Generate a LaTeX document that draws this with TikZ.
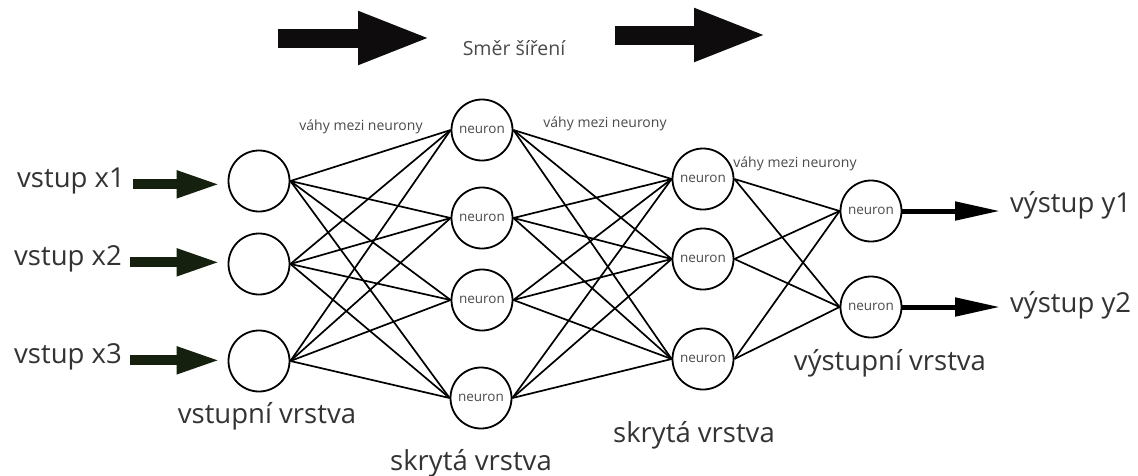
\documentclass[tikz,border=0pt]{standalone}
\usepackage{fontspec}
\setmainfont{Open Sans}
\usetikzlibrary{arrows.meta}
\definecolor{txt}{HTML}{333333}
\definecolor{soft}{HTML}{4A4A4A}
\definecolor{inarr}{HTML}{16200F}
\definecolor{bigarr}{HTML}{0E0C0D}
\begin{document}
\begin{tikzpicture}[x=1pt,y=-1pt,
  neuron/.style={circle,draw=black,line width=1.8pt,minimum size=61pt,inner sep=0pt,
    font=\fontsize{13.5}{13.5}\selectfont,text=soft},
  edge/.style={line width=1.7pt,black},
  biglabel/.style={inner sep=0pt,font=\fontsize{27.5}{30}\selectfont,text=txt},
  weightlabel/.style={inner sep=0pt,font=\fontsize{14}{14}\selectfont,text=soft,anchor=base},
  inarrow/.style={line width=10pt,inarr,-{Triangle[length=44pt,width=25pt]}},
  outarrow/.style={line width=5pt,black,-{Triangle[length=45pt,width=18pt]}},
  toparrow/.style={line width=19pt,bigarr,-{Triangle[length=74pt,width=48pt]}}]
\useasboundingbox (0,0) rectangle (1138,475);

% direction of propagation
\node[inner sep=0pt,anchor=base,font=\fontsize{19.5}{20}\selectfont,text=soft] (dir) at (514,55) {Směr šíření};
\coordinate (dl1) at (278,38);
\coordinate (dl2) at (432,38);
\coordinate (dr1) at (615,35);
\coordinate (dr2) at (768,35);
\draw[toparrow] (dl1) -- (dl2);
\draw[toparrow] (dr1) -- (dr2);

% input layer
\node[neuron] (i1) at (259,181) {};
\node[neuron] (i2) at (259,264) {};
\node[neuron] (i3) at (259,361) {};
% first hidden layer
\node[neuron] (h1) at (482,130) {neuron};
\node[neuron] (h2) at (482,218) {neuron};
\node[neuron] (h3) at (482,300) {neuron};
\node[neuron] (h4) at (481,398) {neuron};
% second hidden layer
\node[neuron] (g1) at (703,179) {neuron};
\node[neuron] (g2) at (703,259) {neuron};
\node[neuron] (g3) at (703,359) {neuron};
% output layer
\node[neuron] (o1) at (871,211) {neuron};
\node[neuron] (o2) at (871,307) {neuron};

% weights
\foreach \a in {i1,i2,i3}
  \foreach \b in {h1,h2,h3,h4}
    \draw[edge] (\a.east) -- (\b.west);
\foreach \a in {h1,h2,h3,h4}
  \foreach \b in {g1,g2,g3}
    \draw[edge] (\a.east) -- (\b.west);
\foreach \a in {g1,g2,g3}
  \foreach \b in {o1,o2}
    \draw[edge] (\a.east) -- (\b.west);

\node[weightlabel] (w1) at (361,130) {váhy mezi neurony};
\node[weightlabel] (w2) at (605,127) {váhy mezi neurony};
\node[weightlabel] (w3) at (795,167) {váhy mezi neurony};

% inputs
\node[biglabel,anchor=base east] (x1) at (125,187) {vstup x1};
\node[biglabel,anchor=base east] (x2) at (122,265) {vstup x2};
\node[biglabel,anchor=base east] (x3) at (122,363) {vstup x3};
\draw[inarrow,shorten <=8pt,shorten >=7pt] (x1.mid east) -- (x1.mid east -| i1.west);
\draw[inarrow,shorten <=8pt,shorten >=7pt] (x2.mid east) -- (x2.mid east -| i2.west);
\draw[inarrow,shorten <=8pt,shorten >=7pt] (x3.mid east) -- (x3.mid east -| i3.west);

% outputs
\node[biglabel,anchor=base west] (y1) at (1010,212) {výstup y1};
\node[biglabel,anchor=base west] (y2) at (1010,312) {výstup y2};
\draw[outarrow,shorten >=10pt] (o1.east) -- (o1.east -| y1.west);
\draw[outarrow,shorten >=10pt] (o2.east) -- (o2.east -| y2.west);

% layer names
\node[biglabel,anchor=base] (l1) at (267,423) {vstupní vrstva};
\node[biglabel,anchor=base] (l2) at (471,470) {skrytá vrstva};
\node[biglabel,anchor=base] (l3) at (694,442) {skrytá vrstva};
\node[biglabel,anchor=base] (l4) at (890,370) {výstupní vrstva};
\end{tikzpicture}
\end{document}
